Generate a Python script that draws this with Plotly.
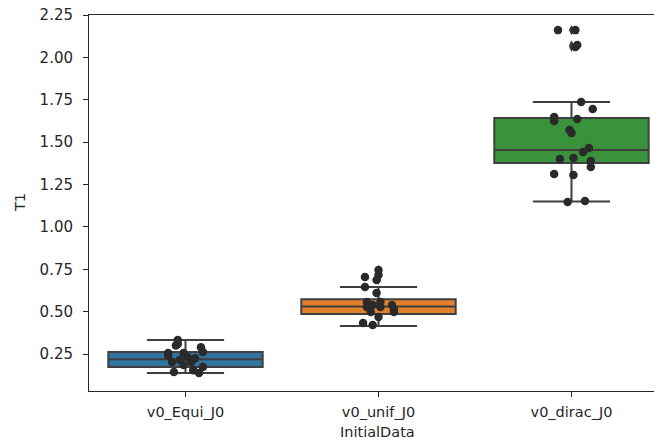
import plotly.graph_objects as go

categories = ["v0_Equi_J0", "v0_unif_J0", "v0_dirac_J0"]
box_colors = ["#3274a1", "#e1812c", "#3a923a"]

# box statistics
q1 = [0.173, 0.486, 1.377]
median = [0.220, 0.530, 1.454]
q3 = [0.262, 0.574, 1.642]
lowerfence = [0.138, 0.415, 1.150]
upperfence = [0.333, 0.645, 1.737]

# strip points (values and horizontal jitter, in category units)
equi_vals = [0.333, 0.300, 0.256, 0.290, 0.262, 0.256, 0.232, 0.203, 0.203, 0.144,
             0.155, 0.138, 0.173, 0.185, 0.215, 0.225, 0.240, 0.310]
equi_jit = [-0.04, -0.05, -0.09, 0.08, 0.09, -0.01, 0.01, -0.07, 0.03, -0.06,
            0.04, 0.07, 0.09, -0.01, -0.03, 0.05, -0.09, -0.04]
unif_vals = [0.746, 0.716, 0.704, 0.687, 0.645, 0.610, 0.557, 0.557, 0.539, 0.527,
             0.527, 0.539, 0.498, 0.498, 0.433, 0.421, 0.468, 0.515]
unif_jit = [0.00, 0.00, -0.07, -0.01, -0.07, -0.01, -0.06, 0.01, -0.03, -0.06,
            0.01, 0.07, 0.08, -0.04, -0.08, -0.03, 0.00, 0.08]
dirac_vals = [2.161, 2.161, 2.061, 2.073, 1.737, 1.695, 1.648, 1.625, 1.636, 1.572,
              1.554, 1.465, 1.442, 1.400, 1.406, 1.389, 1.353, 1.312, 1.306, 1.147, 1.153]
dirac_jit = [-0.07, 0.02, 0.02, 0.03, 0.05, 0.11, -0.09, -0.09, 0.03, -0.01,
             0.00, 0.09, 0.06, -0.06, 0.01, 0.10, 0.10, -0.09, 0.01, -0.02, 0.07]

# fliers (drawn at category centre)
unif_fliers = [0.746, 0.716, 0.704, 0.687]
dirac_fliers = [2.161, 2.161, 2.073, 2.061]

edge = "#3f3f3f"
txt = "#262626"
fig = go.Figure()
for i, cat in enumerate(categories):
    fig.add_trace(go.Box(
        x=[i], q1=[q1[i]], median=[median[i]], q3=[q3[i]],
        lowerfence=[lowerfence[i]], upperfence=[upperfence[i]],
        width=0.8, whiskerwidth=0.5, fillcolor=box_colors[i],
        line=dict(color=edge, width=2), boxpoints=False,
        showlegend=False, hoverinfo="skip"))

fig.add_trace(go.Scatter(
    x=[1] * len(unif_fliers) + [2] * len(dirac_fliers),
    y=unif_fliers + dirac_fliers, mode="markers",
    marker=dict(symbol="diamond-tall", size=7, color=edge), showlegend=False))

groups = [(0, equi_vals, equi_jit), (1, unif_vals, unif_jit), (2, dirac_vals, dirac_jit)]
for pos, vals, jit in groups:
    fig.add_trace(go.Scatter(
        x=[pos + j for j in jit], y=vals, mode="markers",
        marker=dict(size=8.5, color="#2a2a2a"), showlegend=False))

# the page body has an 8px margin, so the figure is shifted by 8px
fig.update_layout(
    width=654, height=435,
    margin=dict(l=81, r=0, t=7, b=52),
    plot_bgcolor="white", paper_bgcolor="white",
    font=dict(family="DejaVu Sans", size=14.5, color=txt),
    xaxis=dict(range=[-0.5, 2.469], tickvals=[0, 1, 2], ticktext=categories,
               automargin=False,
               showline=True, linecolor=txt, linewidth=1, mirror=True,
               ticks="outside", ticklen=5, tickcolor=txt,
               tickfont=dict(size=14.5), ticklabelstandoff=3,
               showgrid=False, zeroline=False),
    yaxis=dict(range=[0.032, 2.2502], tickvals=[0.25, 0.5, 0.75, 1.0, 1.25, 1.5, 1.75, 2.0, 2.25],
               tickformat=".2f", automargin=False, ticklabeloverflow="allow",
               showline=True, linecolor=txt, linewidth=1, mirror=False,
               ticks="outside", ticklen=5, tickcolor=txt,
               tickfont=dict(size=15), ticklabelstandoff=7,
               showgrid=False, zeroline=False),
    annotations=[
        dict(text="InitialData", xref="paper", yref="paper", x=0.504, y=0,
             xanchor="center", yanchor="middle", yshift=-41, showarrow=False,
             font=dict(size=14.5, color=txt)),
        dict(text="T1", xref="paper", yref="paper", x=0, y=0.5,
             xanchor="center", yanchor="middle", xshift=-69, textangle=-90,
             showarrow=False, font=dict(size=14.5, color=txt)),
    ],
)
fig.write_html("out.html")
